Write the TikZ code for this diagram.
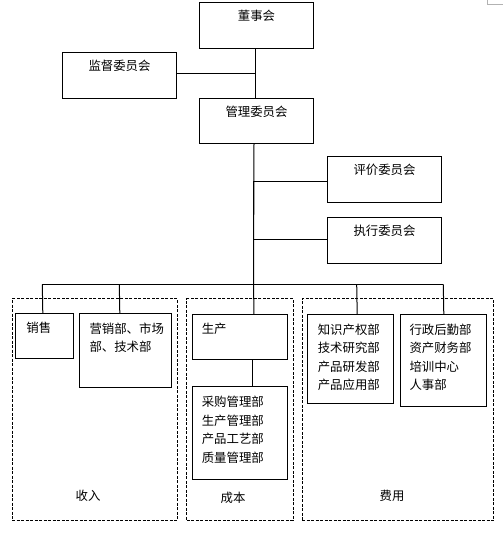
\documentclass[tikz,border=0pt]{standalone}
\usepackage{fontspec}
\setmainfont{Noto Sans CJK SC}
\usetikzlibrary{calc}
\begin{document}
\begin{tikzpicture}[x=1pt,y=-1pt,line width=1pt,
  box/.style={draw,rectangle,inner sep=0pt,anchor=north west},
  grp/.style={draw,dash pattern=on 3pt off 1.5pt,inner sep=0pt,anchor=north west},
  ttl/.style={inner sep=0pt,font=\fontsize{12.4}{18.6}\selectfont},
  lst/.style={inner sep=0pt,anchor=north west,align=left,font=\fontsize{12.4}{18.6}\selectfont},
  conn/.style={draw,line width=1pt}]
\useasboundingbox (0,0) rectangle (503,536);
% boxes
\node[box,minimum width=114pt,minimum height=46pt] (dsh) at (199,2) {};
\node[box,minimum width=114pt,minimum height=46pt] (jd) at (62,52) {};
\node[box,minimum width=114pt,minimum height=45pt] (gl) at (199,98) {};
\node[box,minimum width=114pt,minimum height=46pt] (pj) at (327,156) {};
\node[box,minimum width=114pt,minimum height=46pt] (zx) at (327,217) {};
% groups
\node[grp,minimum width=165.2pt,minimum height=221.7pt] (g1) at (11.5,298.3) {};
\node[grp,minimum width=106.4pt,minimum height=221.7pt] (g2) at (186.3,298.3) {};
\node[grp,minimum width=191.6pt,minimum height=221.7pt] (g3) at (301.7,298.3) {};
% inner boxes
\node[box,minimum width=58pt,minimum height=45pt] (xs) at (15.3,313.3) {};
\node[box,minimum width=92pt,minimum height=74pt] (yx) at (79.3,313.3) {};
\node[box,minimum width=95pt,minimum height=45pt] (sc) at (192.3,314.3) {};
\node[box,minimum width=95pt,minimum height=93pt] (cg) at (192.3,386.3) {};
\node[box,minimum width=86pt,minimum height=89pt] (zs) at (307.3,314.3) {};
\node[box,minimum width=86pt,minimum height=92pt] (xz) at (400.3,314.3) {};
% titles
\node[ttl] (tdsh) at ($(dsh.north)+(0,14)$) {董事会};
\node[ttl] (tjd) at ($(jd.north)+(0,14)$) {监督委员会};
\node[ttl] (tgl) at ($(gl.north)+(0,14)$) {管理委员会};
\node[ttl] (tpj) at ($(pj.north)+(0,14)$) {评价委员会};
\node[ttl] (tzx) at ($(zx.north)+(0,14)$) {执行委员会};
% lists
\node[lst] (txs) at ($(xs.north west)+(10.7,8.7)$) {销售};
\node[lst] (tyx) at ($(yx.north west)+(9.7,8.7)$) {营销部、市场\\部、技术部};
\node[lst] (tsc) at ($(sc.north west)+(9,8.3)$) {生产};
\node[lst] (tcg) at ($(cg.north west)+(9,9.2)$) {采购管理部\\生产管理部\\产品工艺部\\质量管理部};
\node[lst] (tzs) at ($(zs.north west)+(10,8.8)$) {知识产权部\\技术研究部\\产品研发部\\产品应用部};
\node[lst] (txz) at ($(xz.north west)+(8.7,8.8)$) {行政后勤部\\资产财务部\\培训中心\\人事部};
% group labels
\node[ttl] (l1) at (88,496) {收入};
\node[ttl] (l2) at (233,497.7) {成本};
\node[ttl] (l3) at (392,496) {费用};
% connectors
\coordinate (bus) at (253.5,284.3);
\draw ($(dsh.south)+(-1.5,0)$) -- ($(gl.north)+(-1.5,0)$);
\draw ($(jd.east)+(0,-1.7)$) -- ($(jd.east)+(78.5,-1.7)$);
\draw ($(gl.south)+(-2.5,0)$) -- (bus);
\draw ($(pj.west)+(0,2)$) -| (bus);
\draw ($(zx.west)+(0,-1)$) -| (bus);
\draw (bus -| 42.3,0) -- (bus -| 443.3,0);
\draw ($(xs.north)+(-2,0)$) -- (bus -| 42.3,0);
\draw ($(yx.north)+(-6,0)$) -- (bus -| 119.3,0);
\draw ($(sc.north)+(13.7,0)$) -- (bus);
\draw ($(zs.north)+(6.4,0)$) -- (bus -| 356.7,0);
\draw (xz.north) -- (bus -| 443.3,0);
\draw ($(sc.south)+(12.5,0)$) -- ($(cg.north)+(12.5,0)$);
% corner mark
\draw[gray!60,line width=0.7pt] (487.7,0) -- (487.7,4.3) -- (503,4.3);
\end{tikzpicture}
\end{document}
